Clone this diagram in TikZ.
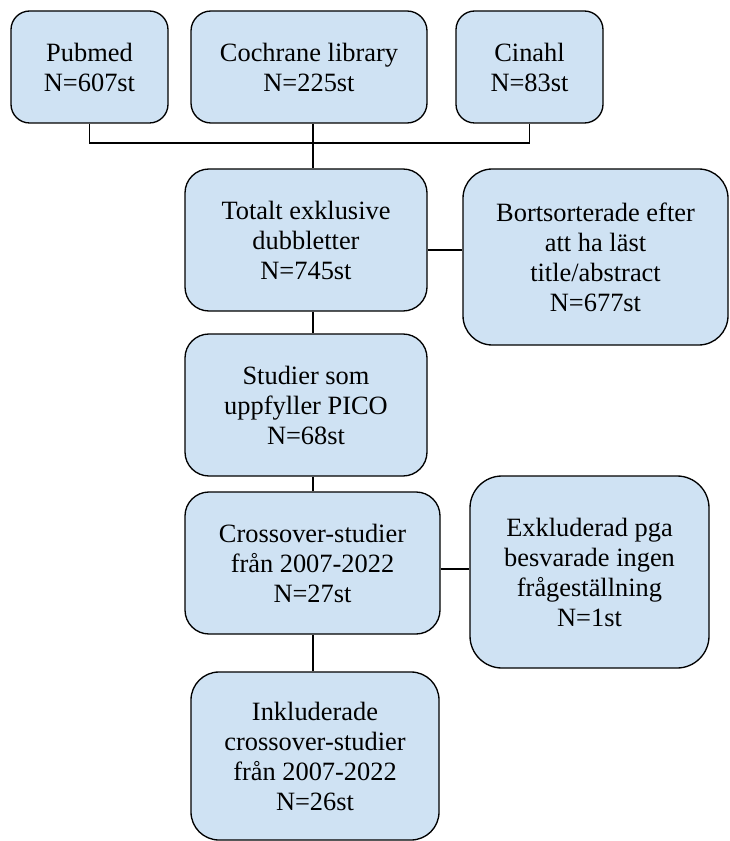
\documentclass[tikz,border=0pt]{standalone}
\usepackage{fontspec}
\setmainfont{Liberation Serif}
\usepackage{tikz}
\definecolor{boxblue}{RGB}{207,226,243}

\begin{document}
\begin{tikzpicture}[x=0.75pt,y=-0.75pt]
\tikzset{% styles for the boxes and lines
        blk/.style={draw=black, line width=1pt, fill=boxblue, rounded corners=#1, align=center,
          inner sep=0pt, font=\fontsize{19.8}{22.5}\selectfont},
        blk/.default=14pt,
        c1/.style={line width=1pt},
        }
\useasboundingbox (0,0) rectangle (729,841);
        % Nodes
        \node[blk, minimum width=117.75pt, minimum height=84pt] (pubmed) at (89.5,67) {Pubmed\\N=607st};
        \node[blk=15pt, minimum width=177pt, minimum height=84pt] (cochrane) at (309,67) {Cochrane library\\N=225st};
        \node[blk, minimum width=110.25pt, minimum height=84pt] (cinahl) at (529.5,67) {Cinahl\\N=83st};
        \node[blk=18pt, minimum width=181.5pt, minimum height=106.5pt] (totalt) at (306,240) {Totalt exklusive\\dubbletter\\N=745st};
        \node[blk=22pt, minimum width=198.75pt, minimum height=132pt] (bort) at (595.5,257) {Bortsorterade efter\\att ha läst\\title/abstract\\N=677st};
        \node[blk=18pt, minimum width=181.5pt, minimum height=106.5pt] (studier) at (306,405) {Studier som\\uppfyller PICO\\N=68st};
        \node[blk=18pt, minimum width=191.25pt, minimum height=106.5pt] (cross) at (312.5,563) {Crossover-studier\\från 2007-2022\\N=27st};
        \node[blk=24pt, minimum width=179.25pt, minimum height=144pt] (exkl) at (589.5,572) {Exkluderad pga\\besvarade ingen\\frågeställning\\N=1st};
        \node[blk=21pt, minimum width=186pt, minimum height=126pt] (inkl) at (315,756) {Inkluderade\\crossover-studier\\från 2007-2022\\N=26st};
        \coordinate (spine) at (313,0);
        \coordinate (bus) at (0,143);
        %Edges
        \draw[c1] (pubmed.south) -- (pubmed.south |- bus) -- (cinahl.south |- bus) -- (cinahl.south);
        \draw[c1] (cochrane.south -| spine) -- (totalt.north -| spine);
        \draw[c1] ([yshift=-7.5pt]totalt.east) -- ([yshift=-7.5pt]totalt.east -| bort.west);
        \draw[c1] (totalt.south -| spine) -- (studier.north -| spine);
        \draw[c1] (studier.south -| spine) -- (cross.north -| spine);
        \draw[c1] ([yshift=-4.5pt]cross.east) -- ([yshift=-4.5pt]cross.east -| exkl.west);
        \draw[c1] (cross.south -| spine) -- (inkl.north -| spine);
\end{tikzpicture}
\end{document}
